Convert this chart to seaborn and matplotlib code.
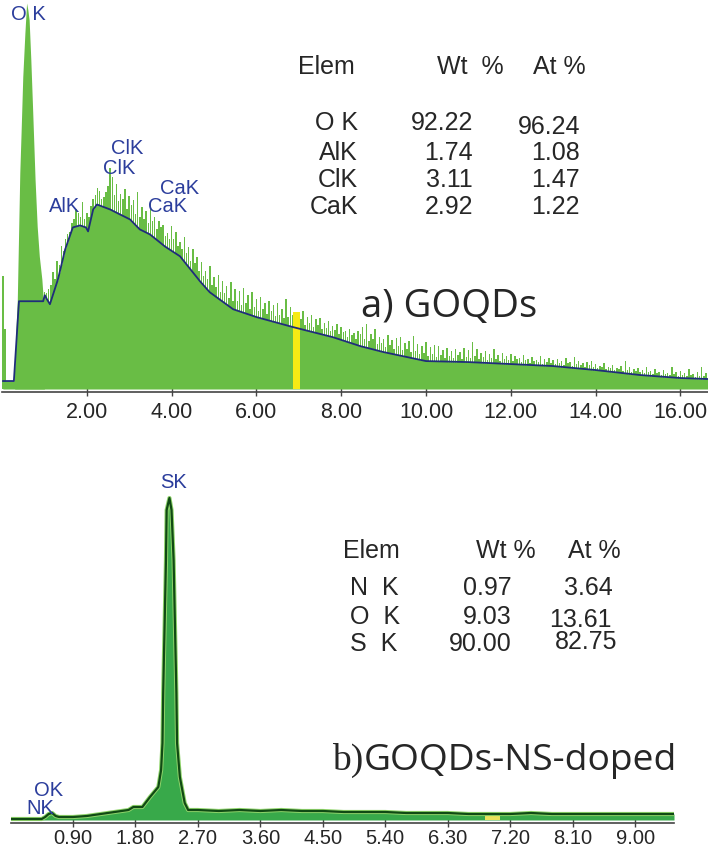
import matplotlib
matplotlib.use("Agg")
import numpy as np
import matplotlib.pyplot as plt
import seaborn as sns

# ---- a) GOQDs spectrum ----
# fitted background (blue line), keV / counts
bg_kev = [0.02, 0.28, 0.40, 0.97, 1.01, 1.06, 1.13, 1.32, 1.49, 1.67, 1.84, 1.98, 2.03,
          2.15, 2.24, 2.55, 3.02, 3.25, 3.49, 3.84, 4.20, 4.67, 4.90, 5.45, 6.01, 6.87,
          7.80, 8.45, 9.00, 10.0, 11.0, 12.0, 13.0, 14.0, 15.05, 16.0, 16.65]
bg_cts = [8, 8, 88, 88, 94, 90, 85, 110, 140, 162, 164, 162, 158,
          180, 185, 180, 170, 160, 155, 143, 133, 108, 97, 80, 72, 62,
          52, 43, 37, 28, 27, 25, 23, 19, 14, 11, 10]

# O K peak outline
ok_kev = [0.30, 0.33, 0.36, 0.42, 0.45, 0.49, 0.54, 0.58, 0.61, 0.64, 0.68, 0.72,
          0.78, 0.83, 0.88, 0.94, 0.97, 1.00]
ok_cts = [8, 60, 88, 217, 257, 313, 357, 387, 380, 370, 330, 283,
          210, 163, 133, 110, 92, 88]

# channel spikes, every 0.1 keV from 1.00 keV
spike_cts = [97, 100, 117, 128, 143, 150, 157, 170, 176, 187,
             176, 183, 195, 199, 192, 204, 213, 206, 196, 201,
             193, 189, 198, 182, 178, 186, 172, 168, 164, 156,
             163, 157, 147, 152, 142, 140, 132, 127, 118, 123,
             112, 114, 108, 103, 107, 100, 98, 101, 94, 97,
             90, 92, 86, 88, 84, 86, 80, 90, 82, 77,
             75, 78, 72, 74, 70, 71, 66, 68, 63, 65,
             62, 58, 60, 56, 58, 62, 65, 55, 60, 52,
             50, 54, 49, 51, 52, 46, 48, 53, 45, 43,
             47, 42, 44, 43, 39, 41, 38, 40, 37, 41,
             39, 47, 40, 36, 38, 35, 40, 34, 36, 33,
             35, 33, 31, 34, 30, 32, 29, 33, 30, 31,
             29, 30, 28, 31, 27, 32, 28, 26, 27, 28,
             25, 23, 26, 22, 24, 21, 23, 28, 22, 20,
             21, 19, 22, 18, 20, 17, 19, 16, 22, 17,
             18, 16, 20, 15, 17, 22, 16]
# in-between channels, every 0.1 keV from 1.05 keV
spike2_cts = [96, 104, 110, 124, 138, 155, 166, 180, 172, 170,
              172, 190, 202, 190, 198, 222, 195, 188, 190, 180,
              184, 175, 172, 170, 166, 168, 160, 162, 153, 150,
              150, 143, 140, 136, 128, 126, 118, 113, 110, 104,
              102, 97, 96, 91, 88, 88, 84, 86, 80, 82,
              78, 80, 75, 78, 73, 74, 71, 72, 74, 66,
              70, 64, 66, 62, 64, 60, 61, 58, 59, 55,
              57, 52, 54, 50, 55, 50, 48, 50, 45, 46,
              42, 44, 40, 43, 39, 40, 37, 38, 35, 36,
              33, 35, 32, 34, 31, 33, 31, 34, 30, 32,
              31, 33, 30, 32, 29, 31, 30, 28, 30, 29,
              28, 30, 27, 29, 26, 28, 27, 25, 27, 26,
              25, 26, 24, 26, 23, 25, 24, 22, 24, 22,
              21, 22, 20, 21, 19, 20, 18, 19, 17, 18,
              17, 16, 17, 15, 16, 14, 15, 14, 15, 13,
              14, 13, 14, 12, 13, 13]
low_kev = [0.03, 0.07]
low_cts = [113, 60]

top_ticks = [2, 4, 6, 8, 10, 12, 14, 16]
top_labels = ["2.00", "4.00", "6.00", "8.00", "10.00", "12.00", "14.00", "16.00"]
top_peaks = [("O K", 28, 15), ("AlK", 65, 207), ("ClK", 127, 148), ("ClK", 119, 169),
             ("CaK", 180, 188), ("CaK", 168, 207)]
top_elems = ["O K", "AlK", "ClK", "CaK"]
top_wt = ["92.22", "1.74", "3.11", "2.92"]
top_at = ["96.24", "1.08", "1.47", "1.22"]

# ---- b) GOQDs-NS-doped spectrum ----
bot_kev = [0.00, 0.45, 0.50, 0.55, 0.60, 0.65, 0.70, 0.90, 1.10, 1.30, 1.50, 1.70, 1.77,
           1.90, 2.01, 2.13, 2.17, 2.19, 2.20, 2.22, 2.24, 2.25, 2.29, 2.32, 2.35, 2.37,
           2.39, 2.40, 2.44, 2.51, 2.56, 2.70, 3.00, 3.30, 3.60, 3.90, 4.20, 4.50, 4.80,
           5.10, 5.40, 5.70, 6.00, 6.30, 6.60, 6.90, 7.20, 7.50, 7.80, 8.10, 8.40, 8.70,
           9.00, 9.30, 9.56]
bot_cts = [1, 1, 3, 6, 7, 4, 3, 3, 4, 6, 8, 10, 13,
           13, 23, 33, 50, 77, 127, 193, 260, 310, 322, 310, 260, 193,
           127, 77, 43, 17, 10, 10, 9, 10, 9, 10, 9, 9, 8,
           8, 8, 7, 7, 7, 6, 6, 6, 7, 6, 6, 6, 6,
           6, 6, 6]

bot_ticks = [0.9, 1.8, 2.7, 3.6, 4.5, 5.4, 6.3, 7.2, 8.1, 9.0]
bot_labels = ["0.90", "1.80", "2.70", "3.60", "4.50", "5.40", "6.30", "7.20", "8.10", "9.00"]
bot_peaks = [("SK", 174, 483), ("OK", 49, 791), ("NK", 40, 809)]
bot_elems = ["N  K", "O  K", "S  K"]
bot_wt = ["0.97", "9.03", "90.00"]
bot_at = ["3.64", "13.61", "82.75"]

sns.set_theme(style="white")
plt.rcParams['font.family'] = ['Liberation Sans', 'DejaVu Sans']

W, H = 708, 850
fig = plt.figure(figsize=(W / 100, H / 100), dpi=100)


def box(l, t, r, b):
    return [l / W, 1 - b / H, (r - l) / W, (b - t) / H]


def put(x, y, s, **kw):
    return fig.text(x / W, 1 - y / H, s, **kw)


green = "#69bd45"
blue = "#1f2d7a"
label_blue = "#2b3d9c"

spike_kev = np.round(1.0 + 0.1 * np.arange(len(spike_cts)), 2)
spike2_kev = np.round(1.05 + 0.1 * np.arange(len(spike2_cts)), 2)

# top panel
ax1 = fig.add_axes(box(2, 0, 708, 392))
ax1.fill_between(bg_kev, bg_cts, color=green, lw=0)
ax1.fill_between(ok_kev, ok_cts, color=green, lw=0)
ax1.bar(spike_kev, spike_cts, width=0.035, color=green, lw=0, antialiased=False)
ax1.bar(spike2_kev, spike2_cts, width=0.035, color=green, lw=0, antialiased=False)
ax1.bar(low_kev, low_cts, width=0.04, color=green, lw=0)
ax1.bar([6.95], [77], width=0.17, color="#f7ea14", lw=0)
sns.lineplot(x=bg_kev, y=bg_cts, ax=ax1, color=blue, lw=1.3, sort=False, estimator=None)
ax1.set_xlim(0, 16.65)
ax1.set_ylim(-3, 390)

# bottom panel
ax2 = fig.add_axes(box(10.5, 480, 674, 823))
ax2.fill_between(bot_kev, bot_cts, color="#38a94a", lw=0)
sns.lineplot(x=bot_kev, y=bot_cts, ax=ax2, color="#8fd46a", lw=3, sort=False, estimator=None)
sns.lineplot(x=bot_kev, y=bot_cts, ax=ax2, color="#104a14", lw=1.6, sort=False, estimator=None)
ax2.bar([6.95], [6], width=0.22, color="#e9e35a", lw=0)
ax2.set_xlim(0, 9.56)
ax2.set_ylim(-3, 340)

for ax, ticks, labels, fs, pad in [(ax1, top_ticks, top_labels, 15.5, 4),
                                   (ax2, bot_ticks, bot_labels, 14.5, 1.5)]:
    sns.despine(ax=ax, left=True)
    ax.spines["bottom"].set_color("#444444")
    ax.spines["bottom"].set_linewidth(1.2)
    ax.set_yticks([])
    ax.set_xticks(ticks)
    ax.set_xticklabels(labels)
    ax.tick_params(axis="x", direction="inout", length=6, width=1, color="#444444",
                   labelsize=fs, pad=pad, bottom=True)
    ax.set_xlabel("")
    ax.set_ylabel("")
    ax.patch.set_alpha(0)

for s, x, y in top_peaks + bot_peaks:
    put(x, y, s, color=label_blue, fontsize=14.5, ha="center", va="center")

# composition tables
tf = 18
put(298, 67, "Elem", fontsize=tf, va="center")
put(437, 67, "Wt  %", fontsize=tf, va="center")
put(533, 67, "At %", fontsize=tf, va="center")
for i, (e, w, a) in enumerate(zip(top_elems, top_wt, top_at)):
    y = [123, 153, 180, 207][i]
    put(358, y, e, fontsize=tf, ha="right", va="center")
    put(473, y, w, fontsize=tf, ha="right", va="center")
    put(580, y + (4 if i == 0 else 0), a, fontsize=tf, ha="right", va="center")

put(343, 551, "Elem", fontsize=tf, va="center")
put(476, 551, "Wt %", fontsize=tf, va="center")
put(568, 551, "At %", fontsize=tf, va="center")
for i, (e, w, a) in enumerate(zip(bot_elems, bot_wt, bot_at)):
    y = [588, 617, 644][i]
    put(350, y, e, fontsize=tf, va="center")
    put(512, y, w, fontsize=tf, ha="right", va="center")
    put([613, 612, 617][i], y + [0, 3, -2][i], a, fontsize=tf, ha="right", va="center")

# panel titles
put(361, 317, "a) GOQDs", fontsize=27.5, family=["Open Sans", "DejaVu Sans"], va="baseline")
tb = put(332, 770, "b)", fontsize=27, family=["Liberation Serif", "DejaVu Serif"], va="baseline")
fig.canvas.draw()
ext = tb.get_window_extent(renderer=fig.canvas.get_renderer())
put(ext.x1, 770, "GOQDs-NS-doped", fontsize=26.7, family=["Open Sans", "DejaVu Sans"], va="baseline")

fig.savefig("out.png", dpi=100)
